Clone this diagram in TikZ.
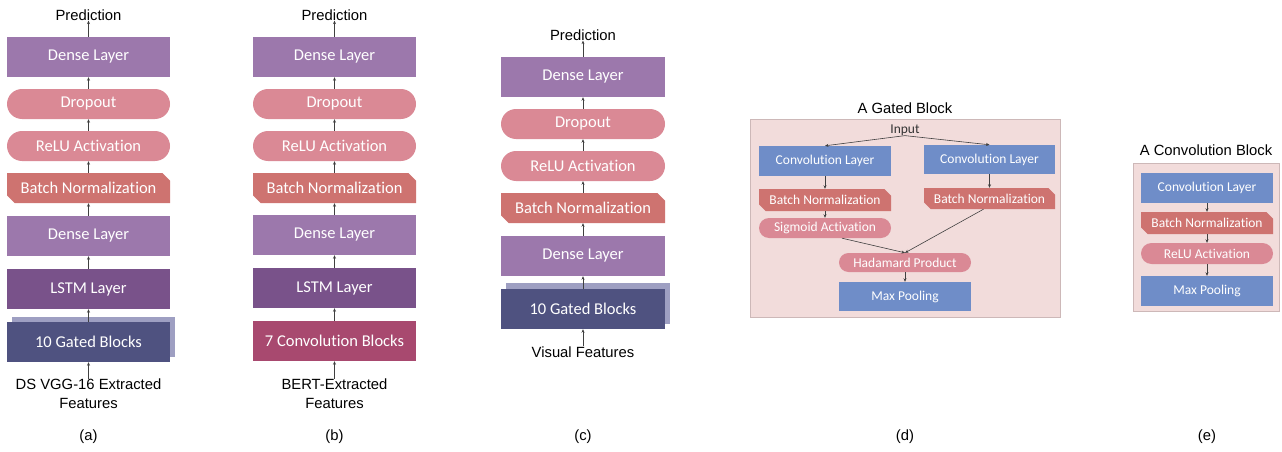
\documentclass[tikz,border=0pt]{standalone}
\usepackage{fontspec}
\setmainfont{Liberation Sans}
\newfontfamily\calib[Ligatures=NoCommon]{Carlito}
\usetikzlibrary{shapes.misc,arrows.meta}
\definecolor{dense}{HTML}{9C78AC}
\definecolor{lstm}{HTML}{79528A}
\definecolor{pinkact}{HTML}{DA8995}
\definecolor{bncol}{HTML}{CE7370}
\definecolor{gated}{HTML}{4F5280}
\definecolor{gshadow}{HTML}{9E9FC2}
\definecolor{convsev}{HTML}{A8496F}
\definecolor{convblue}{HTML}{6F8DC8}
\definecolor{pinkbg}{HTML}{F2DCDB}
\definecolor{bgborder}{HTML}{CDB8B8}
\newcommand\bx[7]{\node[#2, minimum width={#5-#3}, minimum height={#6-#4}] (#1) at ({(#3+#5)/2},{(#4+#6)/2}) {#7};}
\begin{document}
\begin{tikzpicture}[x=1pt,y=-1pt,
  lbl/.style={font=\fontsize{14.8}{18.5}\selectfont, inner sep=0, align=center, text=black},
  blk/.style={inner sep=0, text=white, font=\calib\fontsize{16.5}{19}\selectfont},
  sml/.style={inner sep=0, text=white, font=\calib\fontsize{13.5}{15}\selectfont},
  sq/.style={rectangle},
  rnd/.style={rounded rectangle},
  bnshape/.style={chamfered rectangle, chamfered rectangle corners={north east,south west}, chamfered rectangle xsep=4pt},
  arr/.style={-{Stealth[length=3.5pt,width=3pt]}, draw=black!75, line width=0.6pt}]
\useasboundingbox (0,0) rectangle (1282,452);
% ---------- (a)
\bx{dA1}{blk,sq,fill=dense}{7}{37}{170}{77}{Dense Layer}
\bx{drA}{blk,rnd,fill=pinkact}{7}{89}{170}{119}{Dropout}
\bx{reA}{blk,rnd,fill=pinkact}{7}{131}{170}{161}{ReLU Activation}
\bx{bnA}{blk,bnshape,fill=bncol}{7}{173}{170}{203}{Batch Normalization}
\bx{dA2}{blk,sq,fill=dense}{7}{216}{170}{256}{Dense Layer}
\bx{lsA}{blk,sq,fill=lstm}{7}{269}{170}{309}{LSTM Layer}
\bx{shA}{blk,sq,fill=gshadow}{12}{317}{175}{357}{}
\bx{gA}{blk,sq,fill=gated}{7}{322}{170}{362}{10 Gated Blocks}
\node[lbl] (pA) at (88.5,15) {Prediction};
\node[lbl] (iA) at (88.5,393.5) {DS VGG-16 Extracted\\Features};
\node[lbl] (cA) at (88.5,437) {(a)};
\draw[arr] (iA.north) -- (gA.south);
\draw[arr] (gA.north) -- (lsA.south);
\draw[arr] (lsA.north) -- (dA2.south);
\draw[arr] (dA2.north) -- (bnA.south);
\draw[arr] (bnA.north) -- (reA.south);
\draw[arr] (reA.north) -- (drA.south);
\draw[arr] (drA.north) -- (dA1.south);
\draw[arr] (dA1.north) -- (pA.south);
% ---------- (b)
\bx{dB1}{blk,sq,fill=dense}{253}{37}{416}{77}{Dense Layer}
\bx{drB}{blk,rnd,fill=pinkact}{253}{89}{416}{119}{Dropout}
\bx{reB}{blk,rnd,fill=pinkact}{253}{131}{416}{161}{ReLU Activation}
\bx{bnB}{blk,bnshape,fill=bncol}{253}{173}{416}{203}{Batch Normalization}
\bx{dB2}{blk,sq,fill=dense}{253}{215}{416}{255}{Dense Layer}
\bx{lsB}{blk,sq,fill=lstm}{253}{268}{416}{308}{LSTM Layer}
\bx{cvB}{blk,sq,fill=convsev}{253}{321}{416}{361}{7 Convolution Blocks}
\node[lbl] (pB) at (334.5,15) {Prediction};
\node[lbl] (iB) at (334.5,393.5) {BERT-Extracted\\Features};
\node[lbl] (cB) at (334.5,437) {(b)};
\draw[arr] (iB.north) -- (cvB.south);
\draw[arr] (cvB.north) -- (lsB.south);
\draw[arr] (lsB.north) -- (dB2.south);
\draw[arr] (dB2.north) -- (bnB.south);
\draw[arr] (bnB.north) -- (reB.south);
\draw[arr] (reB.north) -- (drB.south);
\draw[arr] (drB.north) -- (dB1.south);
\draw[arr] (dB1.north) -- (pB.south);
% ---------- (c)
\bx{dC1}{blk,sq,fill=dense}{501}{57}{665}{97}{Dense Layer}
\bx{drC}{blk,rnd,fill=pinkact}{501}{109}{665}{139}{Dropout}
\bx{reC}{blk,rnd,fill=pinkact}{501}{151}{665}{181}{ReLU Activation}
\bx{bnC}{blk,bnshape,fill=bncol}{501}{193}{665}{223}{Batch Normalization}
\bx{dC2}{blk,sq,fill=dense}{501}{236}{665}{276}{Dense Layer}
\bx{shC}{blk,sq,fill=gshadow}{506}{283}{670}{324}{}
\bx{gC}{blk,sq,fill=gated}{501}{289}{665}{329}{10 Gated Blocks}
\node[lbl] (pC) at (583,35) {Prediction};
\node[lbl] (iC) at (583,352) {Visual Features};
\node[lbl] (cC) at (583,437) {(c)};
\draw[arr] (iC.north) -- (gC.south);
\draw[arr] (gC.north) -- (dC2.south);
\draw[arr] (dC2.north) -- (bnC.south);
\draw[arr] (bnC.north) -- (reC.south);
\draw[arr] (reC.north) -- (drC.south);
\draw[arr] (drC.north) -- (dC1.south);
\draw[arr] (dC1.north) -- (pC.south);
% ---------- (d)
\bx{bgD}{sq,fill=pinkbg,draw=bgborder,line width=0.6pt,inner sep=0}{750}{119}{1060}{317}{}
\node[lbl] (tD) at (905,108) {A Gated Block};
\node[inner sep=0, font=\calib\fontsize{13.5}{15}\selectfont, text=black!80] (inD) at (905,130) {Input};
\bx{cvL}{sml,sq,fill=convblue}{759}{146}{891}{176}{Convolution Layer}
\bx{cvR}{sml,sq,fill=convblue}{924}{145}{1055}{174}{Convolution Layer}
\bx{bnL}{sml,bnshape,chamfered rectangle xsep=3pt,fill=bncol}{759}{189}{891}{211}{Batch Normalization}
\bx{bnR}{sml,bnshape,chamfered rectangle xsep=3pt,fill=bncol}{924}{188}{1055}{209}{Batch Normalization}
\bx{sig}{sml,rnd,fill=pinkact}{759}{218}{891}{238}{Sigmoid Activation}
\bx{had}{sml,rnd,fill=pinkact}{839}{253}{971}{272}{Hadamard Product}
\bx{mxD}{sml,sq,fill=convblue}{839}{282}{971}{311}{Max Pooling}
\draw[arr] (inD.south) -- (cvL.north);
\draw[arr] (inD.south) -- (cvR.north);
\draw[arr] (cvL.south) -- (bnL.north);
\draw[arr] (bnL.south) -- (sig.north);
\draw[arr] (cvR.south) -- (bnR.north);
\draw[arr] ([xshift=17pt]sig.south) -- (had.north);
\draw[arr] ([xshift=-6pt]bnR.south) -- (had.north);
\draw[arr] (had.south) -- (mxD.north);
\node[lbl] (cD) at (905,437) {(d)};
% ---------- (e)
\bx{bgE}{sq,fill=pinkbg,draw=bgborder,line width=0.6pt,inner sep=0}{1133}{163}{1279}{311}{}
\node[lbl] (tE) at (1206,150) {A Convolution Block};
\bx{cvE}{sml,sq,fill=convblue}{1141}{173}{1273}{203}{Convolution Layer}
\bx{bnE}{sml,bnshape,chamfered rectangle xsep=3pt,fill=bncol}{1141}{212}{1273}{234}{Batch Normalization}
\bx{reE}{sml,rnd,fill=pinkact}{1141}{243}{1273}{264}{ReLU Activation}
\bx{mxE}{sml,sq,fill=convblue}{1141}{276}{1273}{306}{Max Pooling}
\draw[arr] (cvE.south) -- (bnE.north);
\draw[arr] (bnE.south) -- (reE.north);
\draw[arr] (reE.south) -- (mxE.north);
\node[lbl] (cE) at (1207,437) {(e)};
\end{tikzpicture}
\end{document}
